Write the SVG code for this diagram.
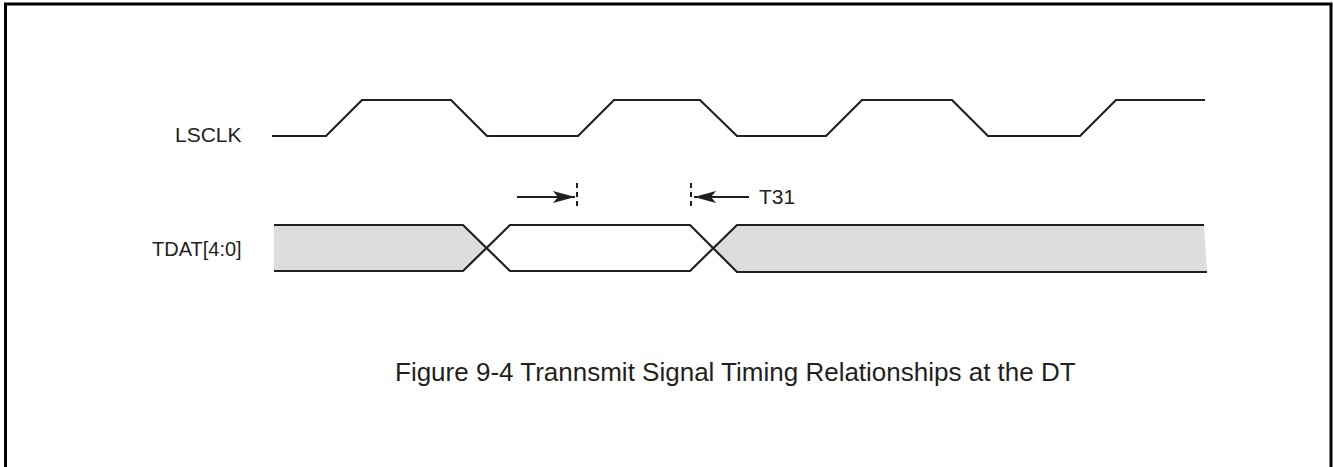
<svg xmlns="http://www.w3.org/2000/svg" width="1333" height="467" viewBox="0 0 1333 467">
<style>
.txt{font-family:"Liberation Sans",Arial,sans-serif;fill:#231f20}
.wave{fill:none;stroke:#231f20;stroke-width:2.2;stroke-linejoin:miter}
.bus{fill:#dcdddf;stroke:none}
.dash{stroke:#231f20;stroke-width:2;stroke-dasharray:5 4}
.arr{stroke:#231f20;stroke-width:2}
</style>
<defs>
<marker id="ah" markerWidth="22" markerHeight="12" refX="22" refY="6" orient="auto" markerUnits="userSpaceOnUse">
<path d="M0,0 L22,6 L0,12 L5,6 Z" fill="#231f20"/>
</marker>
</defs>
<rect x="5.5" y="4" width="1325.5" height="470" fill="#fff" stroke="#000" stroke-width="3"/>
<g id="lsclk">
<text class="txt" x="175" y="142" font-size="21">LSCLK</text>
<path class="wave" d="M272,136 H326 L362,100 H451 L487,136 H578 L614,100 H700 L737,136 H826 L862,100 H952 L988,136 H1080 L1116,100 H1205"/>
</g>
<g id="tdat">
<text class="txt" x="152" y="256" font-size="20">TDAT[4:0]</text>
<polygon class="bus" points="274,225 463,225 487,248 463,271 274,271"/>
<polygon class="bus" points="736,225 1204,225 1207,272 736,272 713,248"/>
<path class="wave" d="M274,225 H463 L510,271 H690 L737,225 H1204"/>
<path class="wave" d="M274,271 H463 L510,225 H690 L737,272 H1207"/>
</g>
<g id="connectors">
<line class="arr" x1="517" y1="197" x2="575" y2="197" marker-end="url(#ah)"/>
<line class="dash" x1="577" y1="183" x2="577" y2="209"/>
<line class="arr" x1="749" y1="197" x2="694" y2="197" marker-end="url(#ah)"/>
<line class="dash" x1="691" y1="183" x2="691" y2="209"/>
</g>
<g id="t31">
<text class="txt" x="759" y="204" font-size="21">T31</text>
</g>
<g id="caption">
<text class="txt" x="395" y="381" font-size="26">Figure 9-4 Trannsmit Signal Timing Relationships at the DT</text>
</g>
</svg>
